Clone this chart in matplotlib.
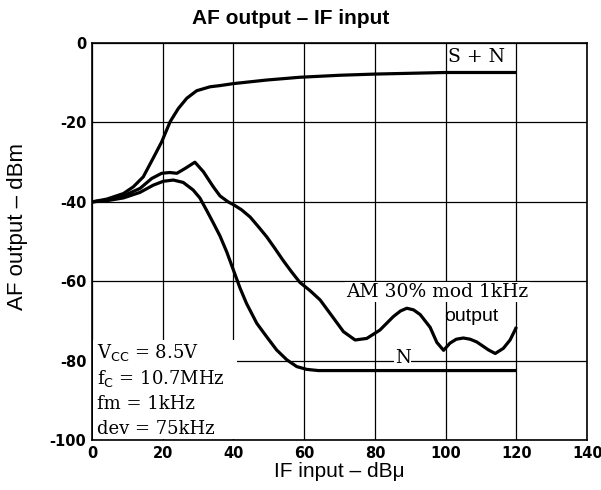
import matplotlib.pyplot as plt

plt.rcParams["axes.unicode_minus"] = False

# values (IF input dBμ, AF output dBm)
sn_x = [0, 4.2, 8.9, 11.7, 14.5, 17.3, 19.7, 22.1, 24.4, 26.8, 29.6, 33.4, 36.2, 40, 49.4, 58.8,
        70, 80, 90, 100, 110, 120]
sn_y = [-40, -39.3, -37.9, -36.2, -33.7, -29, -24.9, -19.8, -16.5, -13.9, -12, -11, -10.7, -10.2, -9.3, -8.6,
        -8.1, -7.8, -7.6, -7.4, -7.4, -7.4]

am_x = [0, 4.2, 8.9, 13.6, 16.9, 19.7, 22, 24, 26.3, 29.1, 31.5, 34.3, 36.2, 38.5, 40, 42.3, 44.7, 47, 49.4,
        51.7, 54, 56.4, 58.8, 61.7, 64.5, 68.3, 71.1, 74.4, 77.7, 81.4, 85.2, 87.2, 89, 90.9, 92.8, 95.6, 97.5,
        99.4, 101.2, 103, 105, 106.9, 108.8, 112.1, 114, 116.3, 118.2, 119.6, 120]
am_y = [-40, -39.6, -38.5, -36.6, -34.1, -32.8, -32.6, -32.8, -31.6, -30, -32.4, -36.2, -38.5, -40, -40.7,
        -42, -43.8, -46.2, -48.8, -51.7, -54.7, -57.6, -60.3, -62.4, -64.7, -69.3, -72.7, -74.8, -74.4, -72.3,
        -68.9, -67.5, -66.8, -67.2, -68.4, -71.6, -75.4, -77.4, -75.6, -74.6, -74.3, -74.6, -75.3, -77.3, -78.2,
        -76.9, -74.8, -72.3, -71.5]

n_x = [0, 4.2, 8.9, 13.6, 17.3, 20.2, 23, 25.8, 28.6, 30.5, 32.4, 34.3, 36.2, 38.1, 40, 41.9, 43.7, 46.6,
       49.4, 52.2, 55.1, 57.9, 60.7, 64, 70, 80, 100, 120]
n_y = [-40, -39.7, -39, -37.6, -35.8, -34.8, -34.5, -35.1, -37, -39, -42.1, -45.3, -48.6, -52.6, -57.2,
       -61.8, -65.6, -70.6, -74, -77.3, -79.8, -81.5, -82.2, -82.5, -82.5, -82.5, -82.5, -82.5]

conditions = ["V$_{\\mathrm{CC}}$ = 8.5V", "f$_{\\mathrm{C}}$ = 10.7MHz", "fm = 1kHz", "dev = 75kHz"]

fig = plt.figure(figsize=(6.01, 4.9), dpi=100)
ax = fig.add_axes([0.153, 0.102, 0.824, 0.81])

for xs, ys in [(sn_x, sn_y), (am_x, am_y), (n_x, n_y)]:
    ax.plot(xs, ys, color="black", lw=2.3, solid_joinstyle="round", solid_capstyle="butt", zorder=3)

ax.set_xlim(0, 140)
ax.set_ylim(-100, 0)
ax.set_xticks(range(0, 141, 20))
ax.set_yticks(range(-100, 1, 20))
ax.tick_params(length=0, pad=4, labelsize=10.5)
for lab in ax.get_xticklabels() + ax.get_yticklabels():
    lab.set_fontweight("bold")
ax.grid(True, color="black", lw=0.9)
for s in ax.spines.values():
    s.set_linewidth(1.2)

serif = dict(family="DejaVu Serif", fontsize=13, zorder=4)
ax.text(108.6, -3.6, "S + N", ha="center", va="center", family="DejaVu Serif", fontsize=13.5, zorder=4)
ax.text(97.6, -62.7, "AM 30% mod 1kHz", ha="center", va="center", family="DejaVu Serif", fontsize=13.5,
        zorder=4, bbox=dict(facecolor="white", edgecolor="none", pad=1))
ax.text(107.3, -69, "output", ha="center", va="center", family="Liberation Sans", fontsize=14, zorder=4)
ax.text(87.8, -79.4, "N", ha="center", va="center",
        bbox=dict(facecolor="white", edgecolor="none", pad=0.3), **serif)

ax.add_patch(plt.Rectangle((0.3, -99.7), 40.6, 24.9, facecolor="white", edgecolor="none", zorder=2.5))
for i, t in enumerate(conditions):
    ax.text(1.4, -78 - i * 6.4, t, ha="left", va="center", **serif)

fig.suptitle("AF output – IF input", x=0.483, y=0.963, va="center", fontsize=15, fontweight="bold",
             family="Liberation Sans")
ax.set_xlabel("IF input – dBμ", fontsize=15, family="Liberation Sans", labelpad=1)
ax.set_ylabel("AF output – dBm", fontsize=16, family="Liberation Sans")
ax.yaxis.set_label_coords(-0.13, 0.539)

fig.savefig("out.png", dpi=100)
